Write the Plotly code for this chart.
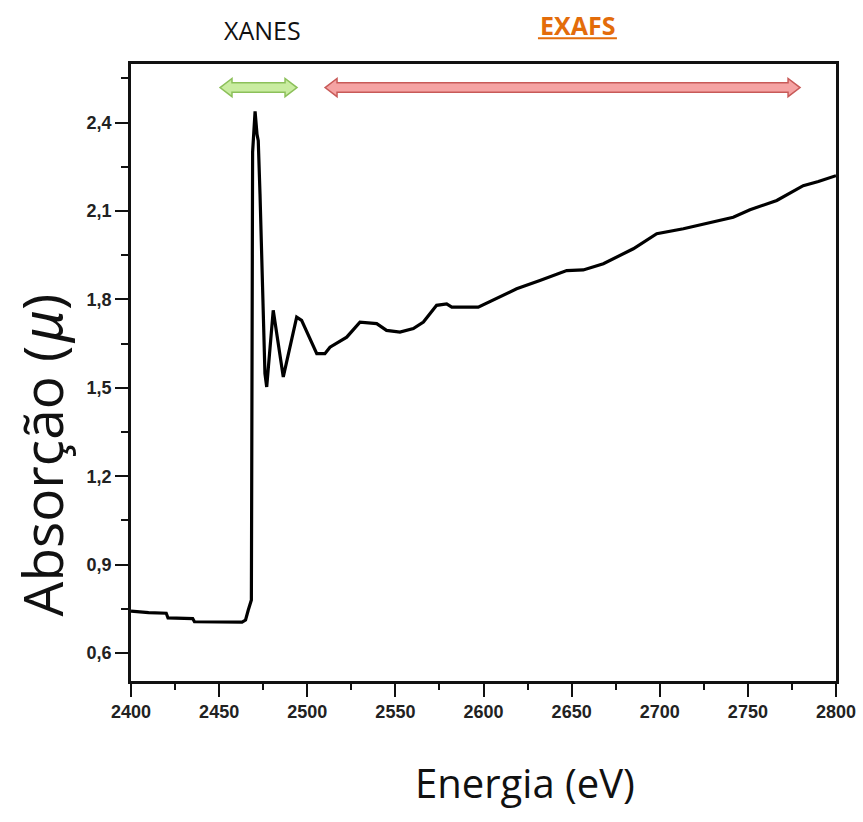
import plotly.graph_objects as go

# ---- data ----
energy = [2400, 2410, 2420, 2421, 2435, 2436, 2463, 2465, 2466.5, 2468.3, 2469.0,
          2470.4, 2471.5, 2472.2, 2473.2, 2474.2, 2475.1, 2476.0, 2477.0, 2480.7,
          2486.4, 2494.0, 2496.8, 2505.4, 2510.0, 2512.9, 2522.4, 2529.9, 2539.4,
          2545.0, 2552.6, 2560.2, 2565.9, 2573.4, 2579.1, 2582.0, 2597.0, 2609.4,
          2618.8, 2632.0, 2647.2, 2656.6, 2668.0, 2685.0, 2698.3, 2713.4, 2727.0,
          2741.7, 2751.2, 2766.4, 2781.4, 2790.0, 2800.0]
absorb = [0.742, 0.737, 0.735, 0.719, 0.717, 0.706, 0.705, 0.712, 0.745, 0.78, 2.30,
          2.438, 2.36, 2.339, 2.158, 1.921, 1.74, 1.548, 1.503, 1.763,
          1.537, 1.74, 1.729, 1.616, 1.616, 1.638, 1.672, 1.723, 1.718,
          1.695, 1.689, 1.701, 1.723, 1.780, 1.785, 1.774, 1.774, 1.808,
          1.836, 1.864, 1.898, 1.900, 1.921, 1.972, 2.023, 2.040, 2.060,
          2.079, 2.104, 2.136, 2.186, 2.200, 2.220]

y_tickvals = [0.6, 0.9, 1.2, 1.5, 1.8, 2.1, 2.4]
y_ticktext = ["0,6", "0,9", "1,2", "1,5", "1,8", "2,1", "2,4"]
x_tickvals = [2400, 2450, 2500, 2550, 2600, 2650, 2700, 2750, 2800]
x_ticktext = [str(v) for v in x_tickvals]

# region arrows (energy ranges) and labels
xanes_range = [2450.5, 2494.2]
exafs_range = [2510.1, 2779.6]
arrow_level = 2.519

fig = go.Figure()
fig.add_trace(go.Scatter(x=energy, y=absorb, mode="lines",
                         line=dict(color="black", width=3.2),
                         showlegend=False, hoverinfo="skip"))


def double_arrow(x0, x1, yc, fill, edge):
    half_shaft = 0.016
    half_head = 0.031
    head = 6.8
    p = (f"M {x0},{yc} L {x0+head},{yc+half_head} L {x0+head},{yc+half_shaft} "
         f"L {x1-head},{yc+half_shaft} L {x1-head},{yc+half_head} L {x1},{yc} "
         f"L {x1-head},{yc-half_head} L {x1-head},{yc-half_shaft} "
         f"L {x0+head},{yc-half_shaft} L {x0+head},{yc-half_head} Z")
    fig.add_shape(type="path", path=p, xref="x", yref="y",
                  fillcolor=fill, line=dict(color=edge, width=1.5), layer="above")


double_arrow(xanes_range[0], xanes_range[1], arrow_level, "#c9eca0", "#8cc05a")
double_arrow(exafs_range[0], exafs_range[1], arrow_level, "#f5a3a3", "#c85a58")

fig.add_annotation(x=0.1872, y=1.0559, xref="paper", yref="paper",
                   xanchor="center", yanchor="middle",
                   text="XANES", showarrow=False,
                   font=dict(family="Open Sans", size=25, color="#111111"))
fig.add_annotation(x=0.6333, y=1.0625, xref="paper", yref="paper",
                   xanchor="center", yanchor="middle",
                   text="<b>EXAFS</b>", showarrow=False,
                   font=dict(family="Open Sans", size=25, color="#e36c0a"))
fig.add_shape(type="line", xref="x", yref="paper", x0=2630.9, x1=2675.7,
              y0=1.0417, y1=1.0417, line=dict(color="#e36c0a", width=2))

# y-axis title, with an italic mu, as rotated annotations
ytitle_font = dict(family="Open Sans", size=55, color="#111111", style="normal")
fig.add_annotation(x=-0.1277, y=0.3251, xref="paper", yref="paper",
                   xanchor="center", yanchor="middle", textangle=-90,
                   text="Absorção (", showarrow=False, font=ytitle_font)
fig.add_annotation(x=-0.1277, y=0.5737, xref="paper", yref="paper",
                   xanchor="center", yanchor="middle", textangle=-90,
                   text="μ", showarrow=False,
                   font=dict(family="Noto Sans", size=54, color="#111111", style="italic"))
fig.add_annotation(x=-0.1277, y=0.6143, xref="paper", yref="paper",
                   xanchor="center", yanchor="middle", textangle=-90,
                   text=")", showarrow=False, font=ytitle_font)
fig.add_annotation(x=0.5589, y=-0.1637, xref="paper", yref="paper",
                   xanchor="center", yanchor="middle",
                   text="Energia (eV)", showarrow=False,
                   font=dict(family="Open Sans", size=40, color="#111111"))

tickfont = dict(family="Liberation Sans", size=18, color="#222222", weight="bold")

fig.update_layout(
    width=863, height=822,
    margin=dict(l=131, r=27, t=64, b=141),
    paper_bgcolor="white", plot_bgcolor="white",
    xaxis=dict(range=[2400, 2800], tickvals=x_tickvals, ticktext=x_ticktext,
               showgrid=False, zeroline=False, automargin=False,
               showline=True, linecolor="#111111", linewidth=2.5, mirror=True,
               ticks="outside", ticklen=13, tickwidth=2, tickcolor="#111111",
               minor=dict(dtick=25, ticks="outside", ticklen=6, tickwidth=2,
                          tickcolor="#111111", showgrid=False),
               tickfont=tickfont),
    yaxis=dict(range=[0.505, 2.599], tickvals=y_tickvals, ticktext=y_ticktext,
               showgrid=False, zeroline=False, automargin=False,
               showline=True, linecolor="#111111", linewidth=2.5, mirror=True,
               ticks="outside", ticklen=13, tickwidth=2, tickcolor="#111111",
               minor=dict(dtick=0.15, tick0=0.45, ticks="outside", ticklen=7, tickwidth=2,
                          tickcolor="#111111", showgrid=False),
               tickfont=tickfont),
)

fig.write_html("out.html")
